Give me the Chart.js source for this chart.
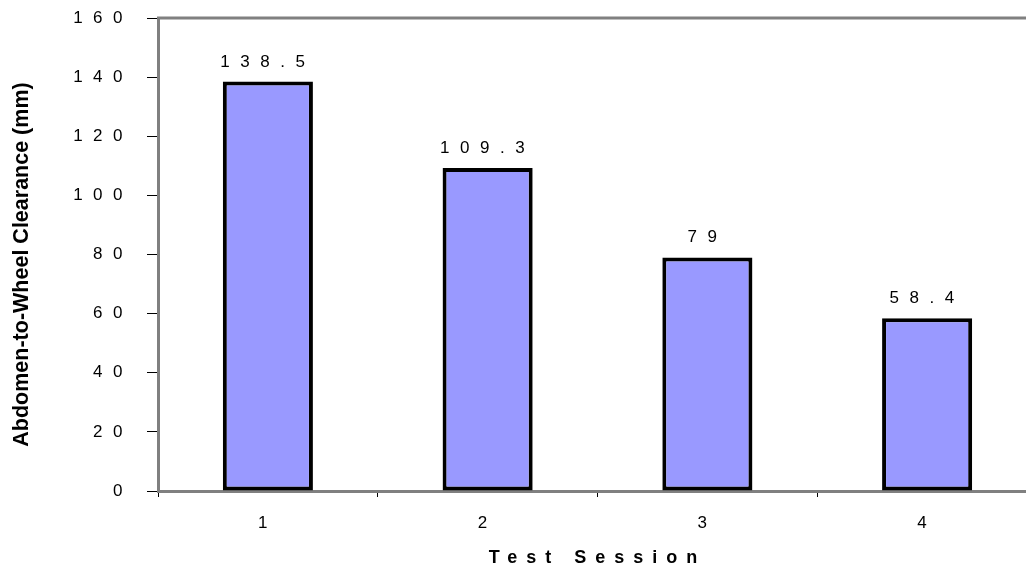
<!DOCTYPE html>
<html>
<head>
<meta charset="utf-8">
<script src="https://cdn.jsdelivr.net/npm/chart.js@4.4.1/dist/chart.umd.min.js"></script>
<style>
    html, body { margin: 0; padding: 0; background: #fff; overflow: hidden; }
    #wrap { width: 1026px; height: 573px; overflow: hidden; }
</style>
</head>
<body>
<div id="wrap"><canvas id="clearanceChart" width="1040" height="573"></canvas></div>
<script>
const sessions = ["1", "2", "3", "4"];
const clearance = [138.5, 109.3, 79, 58.4];
const yMin = 0;
const yMax = 160;
const yStep = 20;
const xTitle = "Test Session";
const yTitle = "Abdomen-to-Wheel Clearance (mm)";

const FONT = "Arial, 'Liberation Sans', sans-serif";

// Excel-style spaced text and the frame lines the library doesn't draw
const excelLook = {
    id: "excelLook",
    beforeDraw(chart) {
        chart.ctx.letterSpacing = "10.5px";
    },
    beforeDatasetsDraw(chart) {
        const { ctx, chartArea } = chart;
        ctx.save();
        ctx.strokeStyle = "#808080";
        ctx.lineWidth = 3;
        ctx.beginPath();
        ctx.moveTo(chartArea.left - 1, chartArea.top);
        ctx.lineTo(chartArea.right, chartArea.top);
        ctx.stroke();
        ctx.restore();
    },
    afterDraw(chart) {
        const { ctx, chartArea } = chart;
        const meta = chart.getDatasetMeta(0);
        ctx.save();
        ctx.fillStyle = "#000";

        // value labels above bars
        ctx.letterSpacing = "10.5px";
        ctx.font = `17px ${FONT}`;
        ctx.textAlign = "center";
        ctx.textBaseline = "alphabetic";
        meta.data.forEach((bar, i) => {
            ctx.fillText(String(clearance[i]), bar.x, bar.y - 15);
        });

        // x axis title
        ctx.letterSpacing = "9px";
        ctx.font = `bold 18px ${FONT}`;
        ctx.fillText(xTitle, (chartArea.left + chartArea.right) / 2, 563);

        // y axis title
        ctx.letterSpacing = "0px";
        ctx.font = `bold 21.5px ${FONT}`;
        ctx.translate(28, (chartArea.top + chartArea.bottom) / 2 + 10);
        ctx.rotate(-Math.PI / 2);
        ctx.fillText(yTitle, 0, 0);
        ctx.restore();
    }
};

new Chart(document.getElementById("clearanceChart").getContext("2d"), {
    type: "bar",
    data: {
        labels: sessions,
        datasets: [{
            data: clearance,
            backgroundColor: "#9999ff",
            borderColor: "#000000",
            borderWidth: 4,
            borderSkipped: false,
            categoryPercentage: 1,
            barPercentage: 0.41
        }]
    },
    options: {
        responsive: false,
        animation: false,
        layout: { padding: { left: 0, top: 18, right: 3, bottom: 0 } },
        plugins: {
            legend: { display: false },
            tooltip: { enabled: false }
        },
        scales: {
            x: {
                afterFit(scale) { scale.height = 82; },
                grid: {
                    offset: true,
                    drawOnChartArea: false,
                    drawTicks: true,
                    tickLength: 6,
                    tickColor: "#000",
                    tickWidth: 1
                },
                border: { display: true, color: "#808080", width: 3 },
                ticks: {
                    color: "#000",
                    padding: 16,
                    maxRotation: 0,
                    font: { family: FONT, size: 17 }
                }
            },
            y: {
                min: yMin,
                max: yMax,
                afterFit(scale) {
                    scale.width = 158;
                    scale.paddingTop = 0;
                    scale.paddingBottom = 0;
                },
                grid: {
                    drawOnChartArea: false,
                    drawTicks: true,
                    tickLength: 11,
                    tickColor: "#000",
                    tickWidth: 1
                },
                border: { display: true, color: "#808080", width: 3 },
                ticks: {
                    stepSize: yStep,
                    color: "#000",
                    padding: 14,
                    font: { family: FONT, size: 17 }
                }
            }
        }
    },
    plugins: [excelLook]
});
</script>
</body>
</html>
